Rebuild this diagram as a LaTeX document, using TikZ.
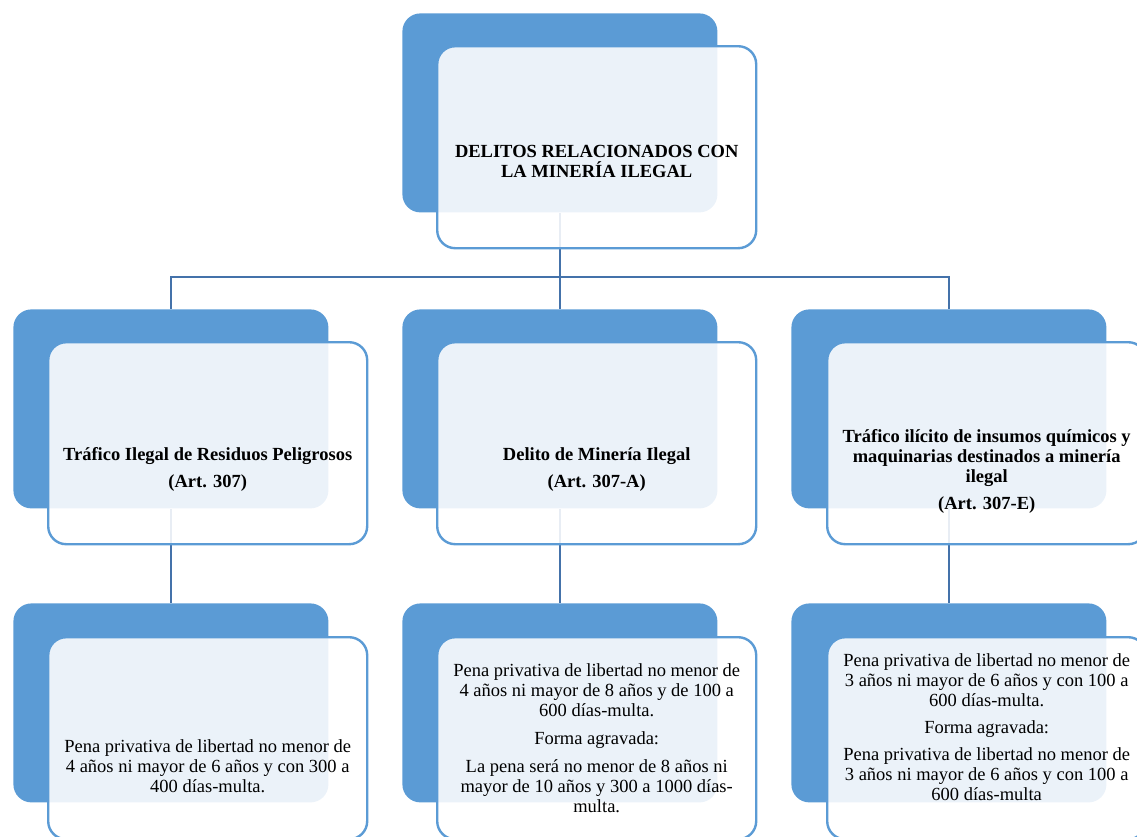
\documentclass[tikz,border=0pt]{standalone}
\usepackage{fontspec}
\setmainfont{Liberation Serif}
\usetikzlibrary{positioning}
\definecolor{smblue}{RGB}{91,155,213}
\definecolor{linkblue}{RGB}{68,114,170}

\begin{document}
\begin{tikzpicture}[x=1pt, y=-1pt, thick, every node/.style={font=\fontsize{18.5}{20}\selectfont}]
  % Define styles
  \tikzstyle{backbox} = [rectangle, rounded corners=18pt, minimum width=315pt, minimum height=199pt, anchor=north west, inner sep=0pt, fill=smblue]
  \tikzstyle{frontbox} = [rectangle, rounded corners=18pt, minimum width=319pt, minimum height=202pt, anchor=north west, inner sep=0pt, draw=smblue, line width=2.4pt, fill=white, fill opacity=0.88]
  \tikzstyle{txt} = [align=center, inner sep=0pt]
  \tikzstyle{boldtxt} = [txt, font=\fontsize{18.5}{20}\selectfont\bfseries]
  \tikzstyle{conn} = [draw=linkblue, line width=2.2pt]

  \useasboundingbox (0,0) rectangle (1137,836);
  \clip (0,0) rectangle (1137,836);

  % Place back boxes
  \node [backbox] (delitosBack) at (402,13) {};
  \node [backbox] (residuosBack) at (13,309) {};
  \node [backbox] (mineriaBack) at (402,309) {};
  \node [backbox] (insumosBack) at (791,309) {};
  \node [backbox] (penaResiduosBack) at (13,603) {};
  \node [backbox] (penaMineriaBack) at (402,603) {};
  \node [backbox] (penaInsumosBack) at (791,603) {};

  % Draw edges
  \coordinate (hub) at (delitosBack.south |- 0,277);
  \path [conn] (delitosBack.south) -- (hub);
  \path [conn] (hub) -| (residuosBack.north);
  \path [conn] (hub) -- (mineriaBack.north);
  \path [conn] (hub) -| (insumosBack.north);
  \path [conn] (residuosBack.south) -- (penaResiduosBack.north);
  \path [conn] (mineriaBack.south) -- (penaMineriaBack.north);
  \path [conn] (insumosBack.south) -- (penaInsumosBack.north);

  % Place front boxes
  \node [frontbox] (delitosFront) at ([shift={(34,32)}]delitosBack.north west) {};
  \node [frontbox] (residuosFront) at ([shift={(34,32)}]residuosBack.north west) {};
  \node [frontbox] (mineriaFront) at ([shift={(34,32)}]mineriaBack.north west) {};
  \node [frontbox] (insumosFront) at ([shift={(35,32)}]insumosBack.north west) {};
  \node [frontbox] (penaResiduosFront) at ([shift={(34,33)}]penaResiduosBack.north west) {};
  \node [frontbox] (penaMineriaFront) at ([shift={(34,33)}]penaMineriaBack.north west) {};
  \node [frontbox] (penaInsumosFront) at ([shift={(35,33)}]penaInsumosBack.north west) {};

  % Texts
  \node [boldtxt] (delitosText) at ([yshift=-14pt]delitosFront.center) {DELITOS RELACIONADOS CON\\LA MINERÍA ILEGAL};
  \node [boldtxt] (residuosText) at ([yshift=-26pt]residuosFront.center) {Tráfico Ilegal de Residuos Peligrosos\\[7pt](Art. 307)};
  \node [boldtxt] (mineriaText) at ([yshift=-26pt]mineriaFront.center) {Delito de Minería Ilegal\\[7pt](Art. 307-A)};
  \node [boldtxt] (insumosText) at ([yshift=-28pt]insumosFront.center) {Tráfico ilícito de insumos químicos y\\maquinarias destinados a minería\\ilegal\\[7pt](Art. 307-E)};
  \node [txt] (penaResiduosText) at ([yshift=-28pt]penaResiduosFront.center) {Pena privativa de libertad no menor de\\4 años ni mayor de 6 años y con 300 a\\400 días-multa.};
  \node [txt] (penaMineriaText) at (penaMineriaFront.center) {Pena privativa de libertad no menor de\\4 años ni mayor de 8 años y de 100 a\\600 días-multa.\\[8pt]Forma agravada:\\[8pt]La pena será no menor de 8 años ni\\mayor de 10 años y 300 a 1000 días-\\multa.};
  \node [txt] (penaInsumosText) at ([yshift=11pt]penaInsumosFront.center) {Pena privativa de libertad no menor de\\3 años ni mayor de 6 años y con 100 a\\600 días-multa.\\[7pt]Forma agravada:\\[7pt]Pena privativa de libertad no menor de\\3 años ni mayor de 6 años y con 100 a\\600 días-multa};
\end{tikzpicture}
\end{document}
